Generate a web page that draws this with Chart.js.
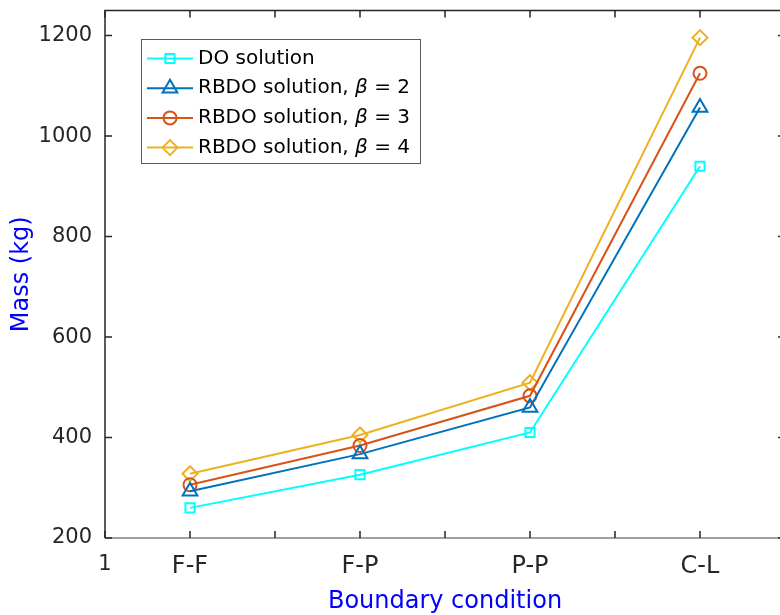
<!DOCTYPE html>
<html>
<head>
<meta charset="utf-8">
<script src="https://cdn.jsdelivr.net/npm/chart.js@4.4.1/dist/chart.umd.min.js"></script>
<style>
  html, body { margin: 0; padding: 0; background: #fff; overflow: hidden; }
  canvas { display: block; }
</style>
</head>
<body>
<canvas id="massChart" width="800" height="615"></canvas>
<script>
const categories = ["F-F", "F-P", "P-P", "C-L"];
const categoryPos = [1.5, 2.5, 3.5, 4.5];
const doMass = [260, 326, 410, 940];
const beta2Mass = [293, 367, 460, 1057];
const beta3Mass = [306, 384, 483, 1125];
const beta4Mass = [328, 405, 509, 1196];
const xTicks = [1, 1.5, 2, 2.5, 3, 3.5, 4, 4.5, 5];
const yTicks = [200, 400, 600, 800, 1000, 1200];

const FONT = '"DejaVu Sans", sans-serif';
const INK = "#262626";

// legend text: [before, italic part, after]
const seriesNames = [
  ["DO solution", "", ""],
  ["RBDO solution, ", "\u03b2", " = 2"],
  ["RBDO solution, ", "\u03b2", " = 3"],
  ["RBDO solution, ", "\u03b2", " = 4"],
];
const seriesColors = ["#00ffff", "#0072bd", "#d95319", "#edb120"];
const seriesMarkers = ["rect", "triangle", "circle", "rectRot"];
const markerSizes = [6.5, 8.5, 6.5, 7.5];
const seriesValues = [doMass, beta2Mass, beta3Mass, beta4Mass];

const datasets = seriesValues.map((vals, i) => ({
  label: seriesNames[i].join(""),
  data: vals.map((v, j) => ({ x: categoryPos[j], y: v })),
  borderColor: seriesColors[i],
  borderWidth: 2,
  pointStyle: seriesMarkers[i],
  pointRadius: markerSizes[i],
  pointBorderWidth: 2,
  pointBorderColor: seriesColors[i],
  pointBackgroundColor: "rgba(0,0,0,0)",
  tension: 0,
}));

// box, inward ticks on all four sides
const axesFrame = {
  id: "axesFrame",
  beforeDatasetsDraw(chart) {
    const { ctx, chartArea: a, scales } = chart;
    const tl = 7;
    ctx.save();
    ctx.lineWidth = 1.5;
    ctx.strokeStyle = INK;
    ctx.beginPath();
    ctx.moveTo(a.left, a.bottom);
    ctx.lineTo(a.left, a.top);
    ctx.lineTo(a.right, a.top);
    ctx.lineTo(a.right, a.bottom);
    ctx.stroke();
    ctx.strokeStyle = "#808080";
    ctx.beginPath();
    ctx.moveTo(a.left, a.bottom);
    ctx.lineTo(a.right, a.bottom);
    ctx.stroke();
    ctx.strokeStyle = INK;
    ctx.beginPath();
    scales.x.ticks.forEach((t) => {
      const px = scales.x.getPixelForValue(t.value);
      ctx.moveTo(px, a.bottom);
      ctx.lineTo(px, a.bottom - tl);
      ctx.moveTo(px, a.top);
      ctx.lineTo(px, a.top + tl);
    });
    scales.y.ticks.forEach((t) => {
      const py = scales.y.getPixelForValue(t.value);
      ctx.moveTo(a.left, py);
      ctx.lineTo(a.left + tl, py);
      ctx.moveTo(a.right, py);
      ctx.lineTo(a.right - tl, py);
    });
    ctx.stroke();
    ctx.restore();
  },
};

const boxLegend = {
  id: "boxLegend",
  afterDatasetsDraw(chart) {
    const ctx = chart.ctx;
    ctx.save();
    ctx.fillStyle = "#fff";
    ctx.fillRect(141, 39, 279, 124);
    ctx.strokeStyle = "#5a5a5a";
    ctx.lineWidth = 1;
    ctx.strokeRect(141.5, 39.5, 279, 124);
    chart.data.datasets.forEach((ds, i) => {
      const y = 58.5 + i * 29.7;
      ctx.strokeStyle = ds.borderColor;
      ctx.lineWidth = 2;
      ctx.beginPath();
      ctx.moveTo(147, y);
      ctx.lineTo(193, y);
      ctx.stroke();
      ctx.fillStyle = "rgba(0,0,0,0)";
      Chart.helpers.drawPoint(ctx, {
        pointStyle: ds.pointStyle,
        radius: ds.pointRadius,
        borderWidth: 2,
        rotation: 0,
      }, 170, y);
      const [a, b, c] = seriesNames[i];
      let x = 198;
      ctx.fillStyle = "#000";
      ctx.textBaseline = "middle";
      ctx.textAlign = "left";
      ctx.font = `20px ${FONT}`;
      ctx.fillText(a, x, y);
      x += ctx.measureText(a).width;
      if (b) {
        ctx.font = `italic 20px ${FONT}`;
        ctx.fillText(b, x, y);
        x += ctx.measureText(b).width;
        ctx.font = `20px ${FONT}`;
        ctx.fillText(c, x, y);
      }
    });
    ctx.restore();
  },
};

new Chart(document.getElementById("massChart").getContext("2d"), {
  type: "line",
  data: { datasets },
  plugins: [axesFrame, boxLegend],
  options: {
    responsive: false,
    animation: false,
    layout: { padding: { top: 8, right: 15, bottom: 0, left: 0 } },
    plugins: { legend: { display: false }, tooltip: { enabled: false } },
    scales: {
      x: {
        type: "linear",
        min: 1,
        max: 5,
        afterBuildTicks: (s) => { s.ticks = xTicks.map((v) => ({ value: v })); },
        afterFit: (s) => { s.height = 77; s.paddingLeft = 0; s.paddingRight = 0; },
        grid: { display: false, drawTicks: false },
        border: { display: false },
        ticks: {
          color: INK,
          font: (c) => ({ family: FONT, size: c.tick && c.tick.value === 1 ? 21 : 24 }),
          padding: 14,
          maxRotation: 0,
          autoSkip: false,
          callback: (v) => (v === 1 ? "1" : (categories[categoryPos.indexOf(v)] || "")),
        },
        title: {
          display: true,
          text: "Boundary condition",
          color: "#0000ff",
          font: { family: FONT, size: 24 },
          padding: { top: 0, bottom: -1 },
        },
      },
      y: {
        min: 200,
        max: 1250,
        afterBuildTicks: (s) => { s.ticks = yTicks.map((v) => ({ value: v })); },
        afterFit: (s) => { s.width = 105; s.paddingTop = 0; s.paddingBottom = 0; },
        grid: { display: false, drawTicks: false },
        border: { display: false },
        ticks: {
          color: INK,
          font: { family: FONT, size: 21 },
          padding: 13,
          callback: (v) => String(v),
        },
        title: {
          display: true,
          text: "Mass (kg)",
          color: "#0000ff",
          font: { family: FONT, size: 24 },
          padding: { top: 7, bottom: 0 },
        },
      },
    },
  },
});
</script>
</body>
</html>
